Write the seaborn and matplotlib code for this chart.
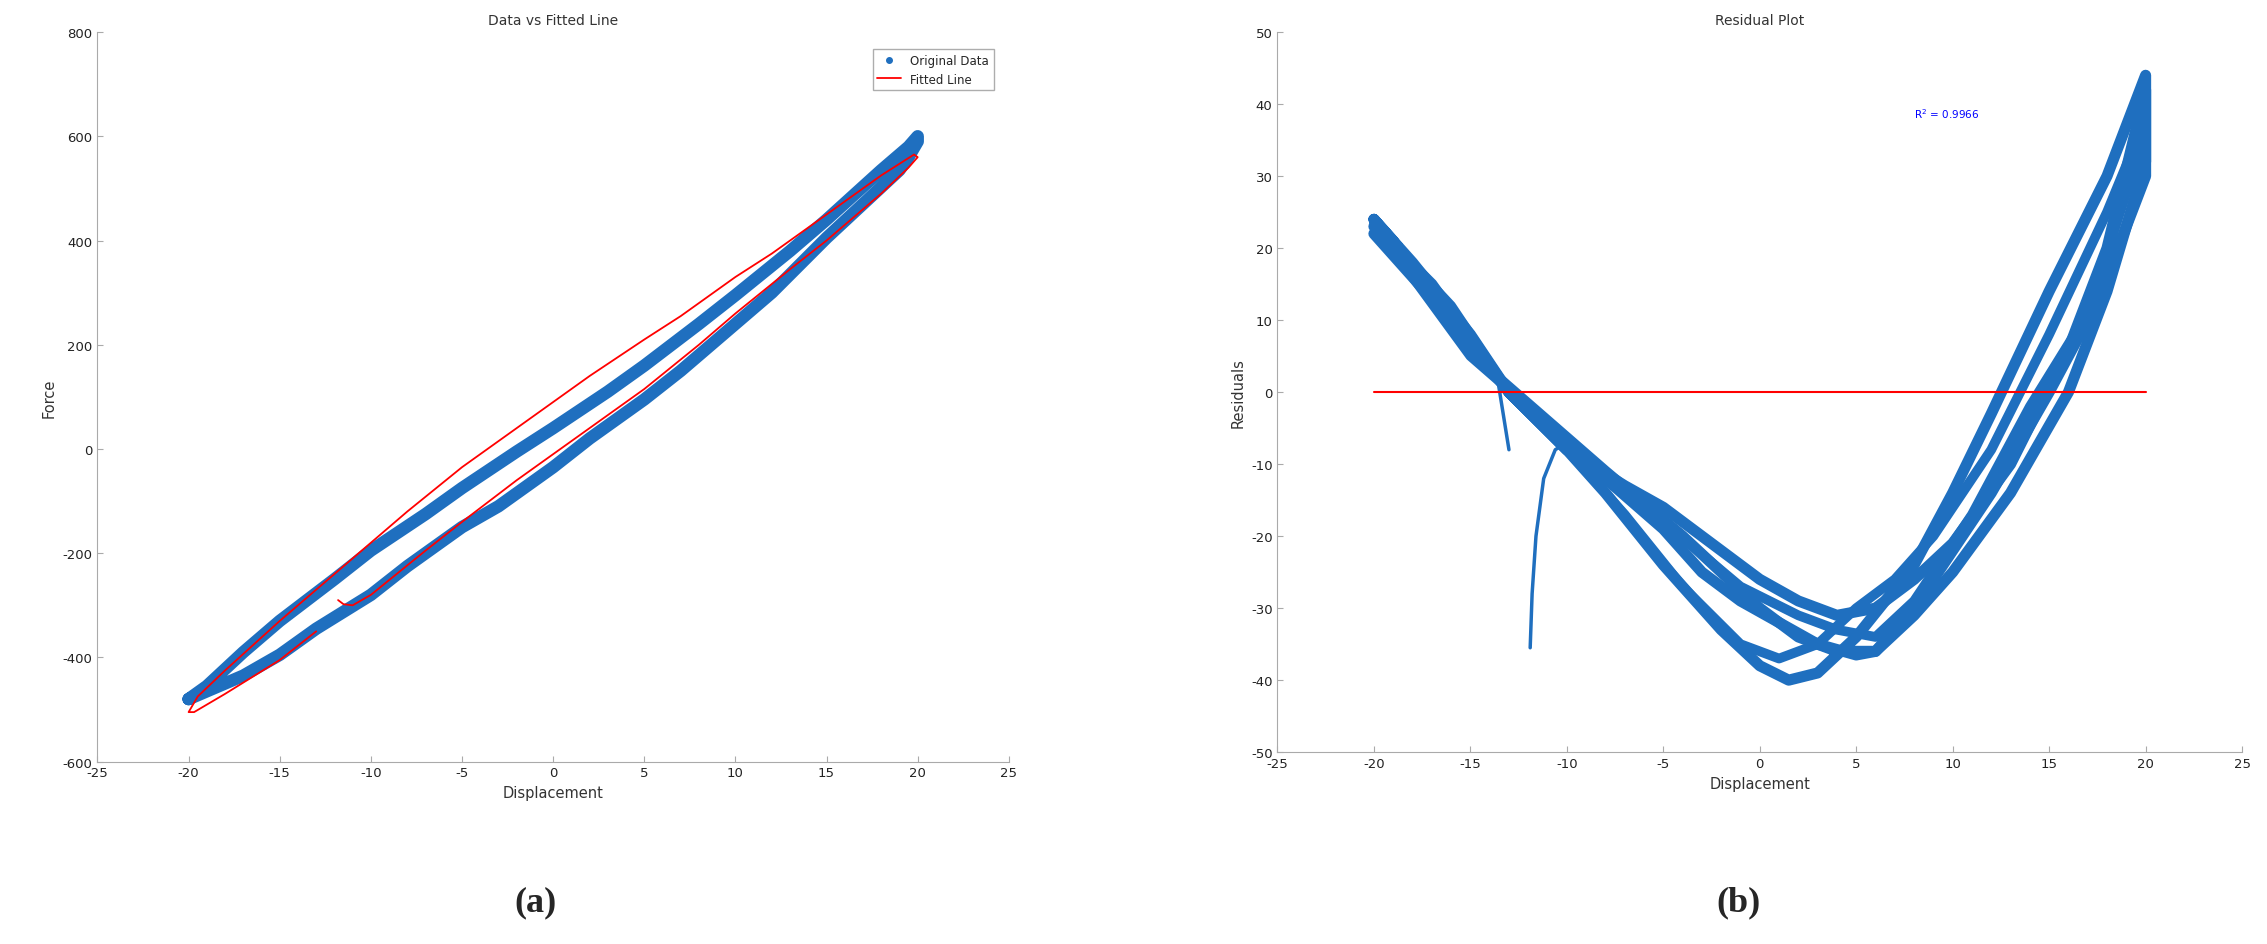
import numpy as np
import pandas as pd
import matplotlib
matplotlib.use("Agg")
import matplotlib.pyplot as plt
import seaborn as sns

# --- (a) data ---
disp_up = [-20, -19, -17, -15, -12, -10, -7, -5, -2, 0, 3, 5, 8, 10, 13, 15, 18, 19.5, 20]
force_up = [-480, -455, -390, -330, -250, -195, -125, -75, -5, 40, 110, 160, 240, 295, 380, 440, 535, 580, 600]
disp_down = [20, 19.5, 19, 17, 15, 12, 10, 7, 5, 2, 0, -3, -5, -8, -10, -13, -15, -17, -19, -20]
force_down = [590, 560, 535, 470, 405, 300, 240, 150, 95, 20, -35, -110, -150, -225, -280, -345, -395, -435, -465, -480]

fit_x = [-11.8, -11.5, -11.0, -10, -7, -5, -2, 0, 3, 5, 8, 10, 13, 15, 18, 19.5, 20,
         19.8, 18, 15, 12, 10, 7, 5, 2, 0, -3, -5, -8, -10, -13, -15, -18, -19.5, -20,
         -19.7, -18, -15, -13]
fit_y = [-290, -298, -300, -280, -195, -140, -60, -10, 65, 115, 200, 260, 345, 400, 490, 540, 560,
         565, 525, 450, 375, 330, 255, 210, 140, 90, 15, -35, -120, -180, -270, -330, -425, -475, -505,
         -505, -470, -405, -350]

# --- (b) residual cycles ---
res_x1 = [-20, -18, -15, -13, -10, -7, -5, -2, 0, 2, 4, 6, 8, 10, 13, 16, 18, 20,
          20, 18, 16, 13, 10, 8, 6, 5, 3, 1, -1, -3, -5, -8, -10, -13, -16, -19, -20]
res_y1 = [24, 18, 8, 0, -8, -13, -16, -22, -26, -29, -31, -30, -26, -21, -10, 6, 20, 42,
          32, 14, 0, -14, -25, -31, -36, -36.5, -35, -32, -29, -25, -19, -12, -8, 0, 10, 21, 24]
res_x2 = [-20, -17, -13, -10, -8, -5, -2, 0, 1.5, 3, 5, 8, 10, 12, 15, 18, 20,
          20, 18, 17, 15, 12, 9, 7, 6, 4, 2, 0, -4, -8, -11, -14, -17, -20]
res_y2 = [23, 15, 0, -8, -14, -24, -33, -38, -40, -39, -34, -24, -14, -3, 14, 30, 44,
          30, 16, 10, 0, -14, -26, -33, -36, -36, -34, -30, -20, -11, -4, 3, 13, 22]
res_x3 = [-20, -16, -13, -10, -7, -4, -1, 1, 3, 5, 7, 9, 12, 15, 18, 20,
          20, 17, 14, 11, 8, 6, 4, 2, -1, -5, -9, -12, -15, -18, -20]
res_y3 = [23.5, 12, 0, -8, -17, -27, -35, -37, -35, -30, -26, -20, -8, 8, 25, 38,
          36, 11, -2, -17, -29, -34, -33, -31, -27, -18, -9, -2, 5, 16, 23]
tr1_x = [-13.0, -13.3, -13.6]
tr1_y = [-8, -3, 2]
tr2_x = [-11.9, -11.8, -11.6, -11.2, -10.6, -10.0]
tr2_y = [-35.5, -28, -20, -12, -8, -7]

blue = "#1f6fbf"
red = "#ff0000"

sns.set_style("white")
plt.rcParams['font.family'] = ['DejaVu Sans']
plt.rcParams['font.size'] = 9.5
plt.rcParams['axes.unicode_minus'] = False

fig = plt.figure(figsize=(22.67, 9.45), dpi=100)
ax1 = fig.add_axes([0.043, 0.193, 0.402, 0.772])
ax2 = fig.add_axes([0.5635, 0.203, 0.4255, 0.762])

# --- (a) ---
loop = pd.DataFrame({"x": disp_up + disp_down, "y": force_up + force_down})
sns.lineplot(data=loop, x="x", y="y", sort=False, estimator=None, color=blue,
             linewidth=9, ax=ax1)
fit = pd.DataFrame({"x": fit_x, "y": fit_y})
sns.lineplot(data=fit, x="x", y="y", sort=False, estimator=None, color=red,
             linewidth=1.3, ax=ax1)
ax1.plot([], [], ".", color=blue, markersize=8, label="Original Data")
ax1.plot([], [], "-", color=red, linewidth=1.3, label="Fitted Line")
ax1.legend(loc="upper right", fontsize=8.5, frameon=True, fancybox=False,
           edgecolor="#999999", bbox_to_anchor=(0.99, 0.985))
ax1.set_xlim(-25, 25)
ax1.set_ylim(-600, 800)
ax1.set_xticks(range(-25, 26, 5))
ax1.set_yticks(range(-600, 801, 200))
ax1.set_title("Data vs Fitted Line", fontsize=10, color="#333333")
ax1.set_xlabel("Displacement", fontsize=10.5, color="#333333")
ax1.set_ylabel("Force", fontsize=10.5, color="#333333")

# --- (b) ---
for xs, ys, lw in [(res_x1, res_y1, 8), (res_x2, res_y2, 8), (res_x3, res_y3, 7),
                   (tr1_x, tr1_y, 2.5), (tr2_x, tr2_y, 2.5)]:
    d = pd.DataFrame({"x": xs, "y": ys})
    sns.lineplot(data=d, x="x", y="y", sort=False, estimator=None, color=blue,
                 linewidth=lw, ax=ax2)
zero = pd.DataFrame({"x": [-20, 20], "y": [0, 0]})
sns.lineplot(data=zero, x="x", y="y", color=red, linewidth=1.5, ax=ax2)
ax2.text(8, 38, r"R$^2$ = 0.9966", color="blue", fontsize=7.5)
ax2.set_xlim(-25, 25)
ax2.set_ylim(-50, 50)
ax2.set_xticks(range(-25, 26, 5))
ax2.set_yticks(range(-50, 51, 10))
ax2.set_title("Residual Plot", fontsize=10, color="#333333")
ax2.set_xlabel("Displacement", fontsize=10.5, color="#333333")
ax2.set_ylabel("Residuals", fontsize=10.5, color="#333333")

for ax in (ax1, ax2):
    sns.despine(ax=ax)
    for s in ("left", "bottom"):
        ax.spines[s].set_color("#aaaaaa")
    ax.tick_params(direction="in", length=4, color="#aaaaaa", labelcolor="#222222",
                   left=True, bottom=True)

fig.text(0.236, 0.045, "(a)", fontsize=26, family="Liberation Serif", weight="bold", ha="center", va="center")
fig.text(0.767, 0.045, "(b)", fontsize=26, family="Liberation Serif", weight="bold", ha="center", va="center")

fig.savefig("out.png", dpi=100)
